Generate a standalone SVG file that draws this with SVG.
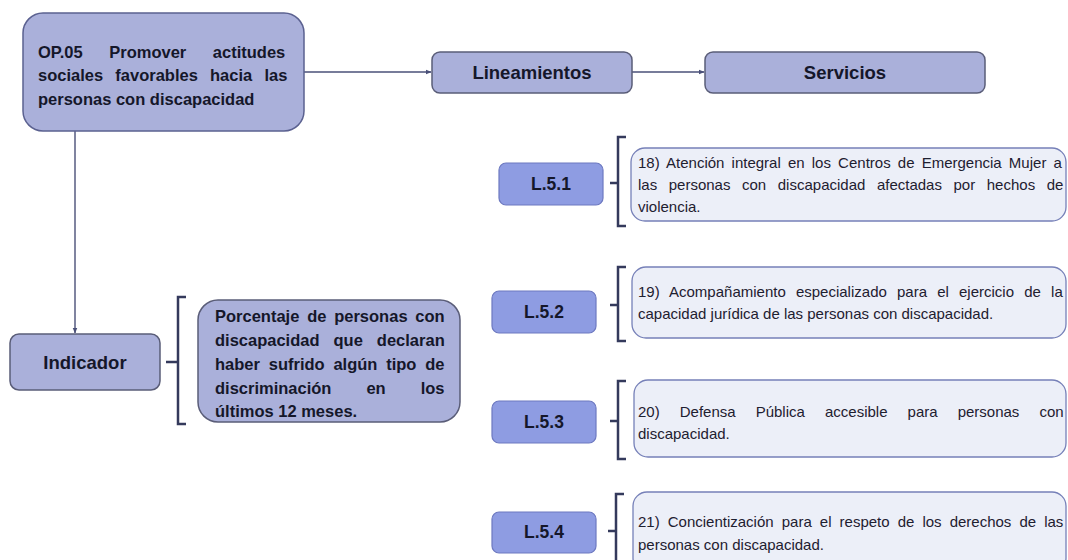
<svg xmlns="http://www.w3.org/2000/svg" width="1068" height="560" viewBox="0 0 1068 560">
<defs>
<marker id="arr" viewBox="0 0 10 10" refX="9" refY="5" markerWidth="6" markerHeight="6" orient="auto" markerUnits="userSpaceOnUse">
<path d="M0,1 L10,5 L0,9 z" fill="#4a5078"/>
</marker>
<style>
.main{fill:#aab0da;stroke:#5b6190;stroke-width:1.5}
.lbox{fill:#8e9ce2;stroke:#6d79c0;stroke-width:1.2}
.sbox{fill:#eceff8;stroke:#7680b8;stroke-width:1.3}
.conn{stroke:#4a5078;stroke-width:1.4;fill:none}
.br{stroke:#343a5c;stroke-width:2.5;fill:none}
.tb{font-family:"Liberation Sans",Arial,sans-serif;font-weight:bold;fill:#15172a}
.tr{font-family:"Liberation Sans",Arial,sans-serif;font-size:15px;fill:#1e2030}
</style>
</defs>
<rect width="1068" height="560" fill="#ffffff"/>
<g id="connectors">
<path class="conn" d="M304,72 H431" marker-end="url(#arr)"/>
<path class="conn" d="M632,72 H704" marker-end="url(#arr)"/>
<path class="conn" d="M75,131 V333" marker-end="url(#arr)"/>
<path class="br" d="M186,297 H178 V424 H186 M178,362 H166"/>
<path class="br" d="M626,137 H618 V226 H626 M618,183 H610"/>
<path class="br" d="M626,267 H618 V341 H626 M618,305 H610"/>
<path class="br" d="M626,381 H618 V459 H626 M618,421 H610"/>
<path class="br" d="M624,494 H616 V562 M616,531 H608"/>
</g>
<g id="op05">
<rect class="main" x="23" y="13" width="281" height="118" rx="20"/>
<text class="tb" font-size="16.5" x="38" y="58" word-spacing="22">OP.05 Promover actitudes</text>
<text class="tb" font-size="16.5" x="38" y="81" word-spacing="7.6">sociales favorables hacia las</text>
<text class="tb" font-size="16.5" x="38" y="105">personas con discapacidad</text>
</g>
<g id="lineamientos">
<rect class="main" x="432" y="52" width="200" height="41" rx="8" style="stroke:#5a5d78"/>
<text class="tb" font-size="18.5" x="532" y="79" text-anchor="middle">Lineamientos</text>
</g>
<g id="servicios">
<rect class="main" x="705" y="52" width="280" height="41" rx="8" style="stroke:#5a5d78"/>
<text class="tb" font-size="18.5" x="845" y="79" text-anchor="middle">Servicios</text>
</g>
<g id="indicador">
<rect class="main" x="10" y="334" width="150" height="56" rx="9" style="stroke:#5a5d78"/>
<text class="tb" font-size="18.5" x="85" y="369" text-anchor="middle">Indicador</text>
</g>
<g id="indicador-texto">
<rect class="main" x="198" y="300" width="262" height="122" rx="20" style="stroke:#5a5d78"/>
<text class="tb" font-size="16.5" x="215" y="322" word-spacing="3.2">Porcentaje de personas con</text>
<text class="tb" font-size="16.5" x="215" y="346" word-spacing="9.4">discapacidad que declaran</text>
<text class="tb" font-size="16.5" x="215" y="370" word-spacing="4.2">haber sufrido algún tipo de</text>
<text class="tb" font-size="16.5" x="215" y="394" word-spacing="30.4">discriminación en los</text>
<text class="tb" font-size="16.5" x="215" y="417">últimos 12 meses.</text>
</g>
<g id="l51">
<rect class="lbox" x="499" y="163" width="104" height="42" rx="7"/>
<text class="tb" font-size="17.5" x="551" y="190" text-anchor="middle">L.5.1</text>
</g>
<g id="l52">
<rect class="lbox" x="492" y="291" width="104" height="42" rx="7"/>
<text class="tb" font-size="17.5" x="544" y="318" text-anchor="middle">L.5.2</text>
</g>
<g id="l53">
<rect class="lbox" x="492" y="401" width="104" height="42" rx="7"/>
<text class="tb" font-size="17.5" x="544" y="428" text-anchor="middle">L.5.3</text>
</g>
<g id="l54">
<rect class="lbox" x="492" y="512" width="104" height="41" rx="7"/>
<text class="tb" font-size="17.5" x="544" y="538" text-anchor="middle">L.5.4</text>
</g>
<g id="s18">
<rect class="sbox" x="631" y="148" width="435" height="73" rx="14"/>
<text class="tr" x="638" y="168" word-spacing="3">18) Atención integral en los Centros de Emergencia Mujer a</text>
<text class="tr" x="638" y="190" word-spacing="7.4">las personas con discapacidad afectadas por hechos de</text>
<text class="tr" x="638" y="212">violencia.</text>
</g>
<g id="s19">
<rect class="sbox" x="632" y="267" width="434" height="71" rx="14"/>
<text class="tr" x="638" y="297" word-spacing="6">19) Acompañamiento especializado para el ejercicio de la</text>
<text class="tr" x="638" y="319">capacidad jurídica de las personas con discapacidad.</text>
</g>
<g id="s20">
<rect class="sbox" x="634" y="380" width="432" height="77" rx="14"/>
<text class="tr" x="638" y="417" word-spacing="15.9">20) Defensa Pública accesible para personas con</text>
<text class="tr" x="638" y="439">discapacidad.</text>
</g>
<g id="s21">
<rect class="sbox" x="633" y="492" width="433" height="80" rx="14"/>
<text class="tr" x="638" y="527" word-spacing="3.9">21) Concientización para el respeto de los derechos de las</text>
<text class="tr" x="638" y="550">personas con discapacidad.</text>
</g>
</svg>
